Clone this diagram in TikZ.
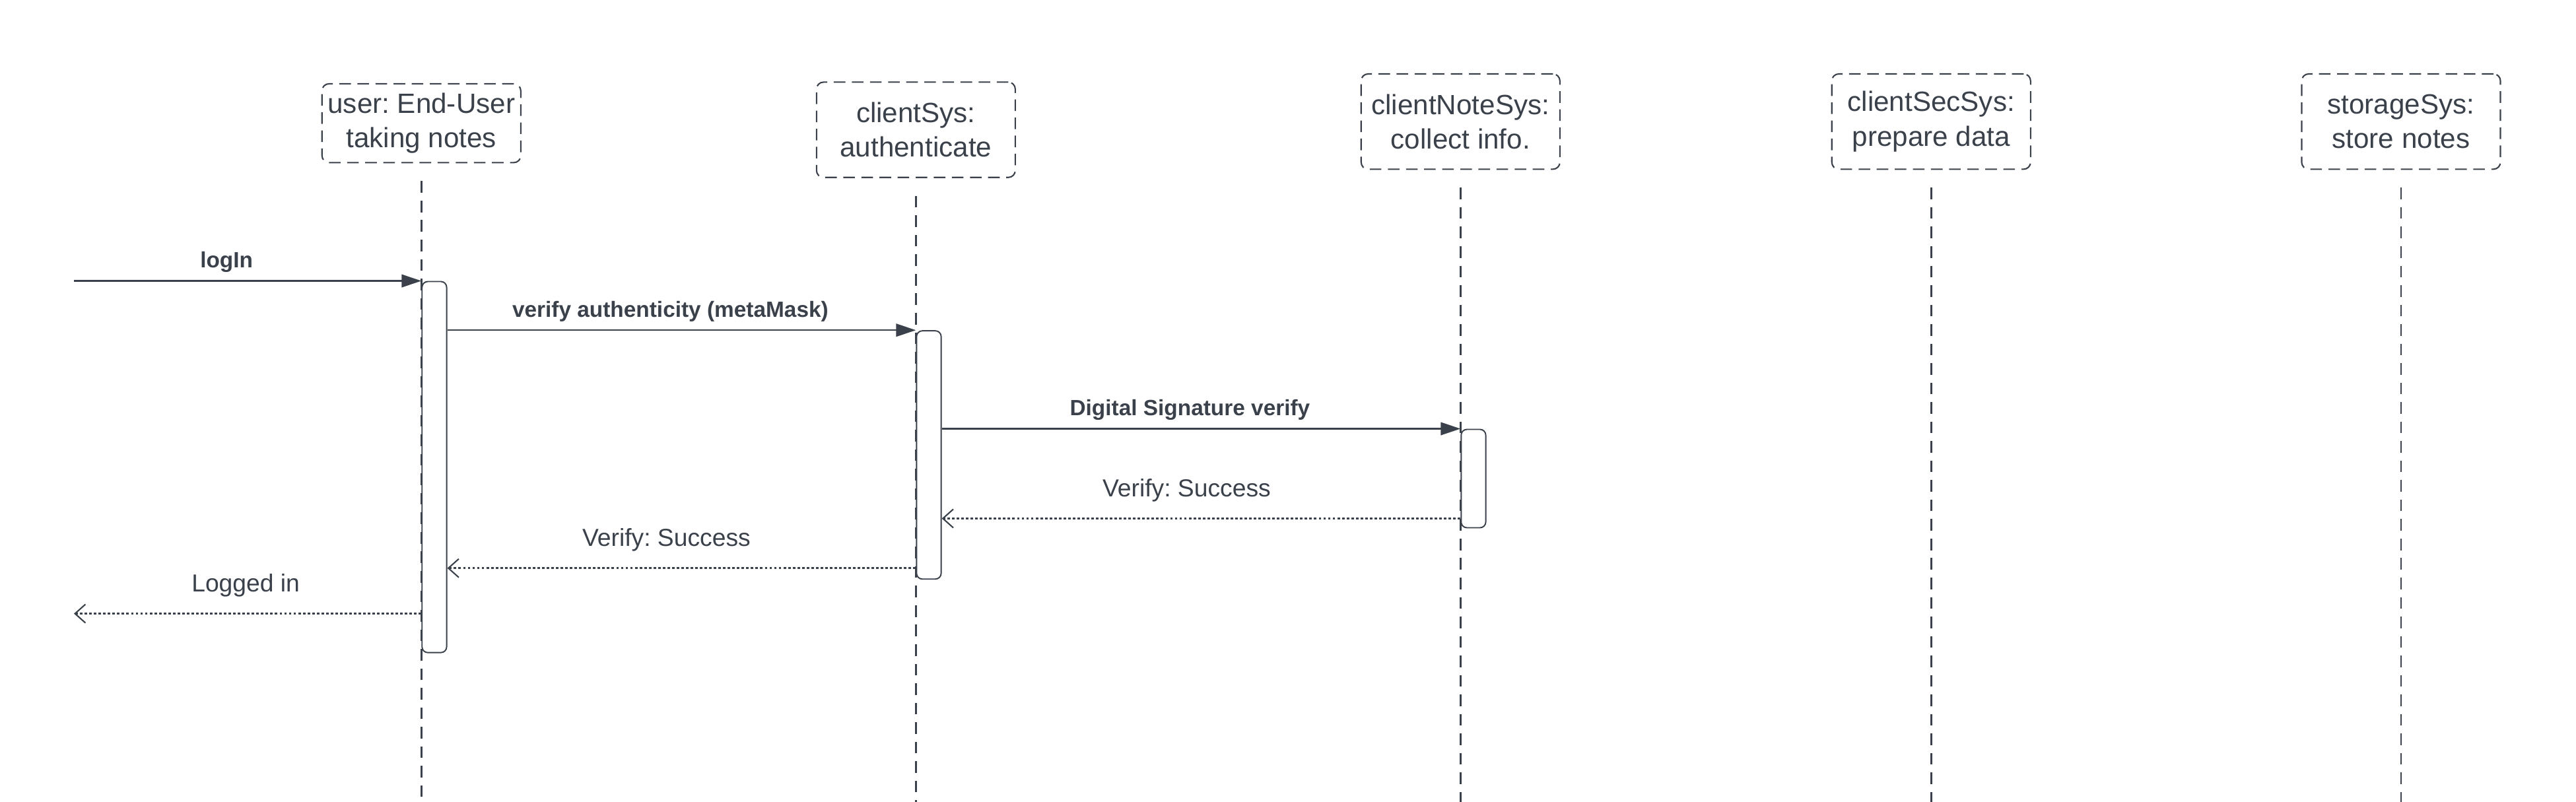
\documentclass[tikz,border=0pt]{standalone}
\usepackage{fontspec}
\setmainfont{Liberation Sans}
\usepackage{xcolor}
\usetikzlibrary{arrows.meta, calc}
\definecolor{lucidgray}{HTML}{3A414A}
\frenchspacing

\begin{document}
\begin{tikzpicture}[x=0.2488mm, y=-0.2488mm,
    lifebox/.style={rectangle, rounded corners=3pt, draw=lucidgray, line width=0.6pt, dash pattern=on 5pt off 2.8pt,
    minimum width=30.1mm, minimum height=14.43mm, align=center, inner sep=0pt, text=lucidgray, font=\fontsize{12}{14.9}\selectfont},
    lifeline/.style={draw=lucidgray, line width=0.75pt, dash pattern=on 5pt off 3.4pt},
    actbar/.style={rectangle, rounded corners=2.5pt, draw=lucidgray, line width=0.55pt, fill=white, minimum width=3.73mm, inner sep=0pt, anchor=north west},
    msg/.style={draw=lucidgray, line width=0.7pt, -{Triangle[length=8.5pt, width=5.5pt]}},
    reply/.style={draw=lucidgray, line width=1pt, dash pattern=on 1.1pt off 0.9pt, -{Straight Barb[length=4.5pt, width=8pt, line width=0.6pt]}},
    msglabel/.style={anchor=base, yshift=2mm, text=lucidgray, font=\fontsize{9.5}{11}\selectfont\bfseries},
    replylabel/.style={anchor=base, yshift=3.3mm, text=lucidgray, font=\fontsize{10.6}{12}\selectfont}]
    \useasboundingbox (0,0) rectangle (1568,488);
    \coordinate (bottom) at (0,490);

    % participants
    \node[lifebox, minimum height=11.94mm] (user) at (256.5,75) {user: End-User\\taking notes};
    \node[lifebox] (clientSys) at (557.5,79) {clientSys:\\authenticate};
    \node[lifebox] (clientNoteSys) at (889,74) {clientNoteSys:\\collect info.};
    \node[lifebox] (clientSecSys) at (1175.5,74) {clientSecSys:\\prepare data};
    \node[lifebox] (storageSys) at (1461.5,74) {storageSys:\\store notes};

    \foreach \p in {user, clientSys, clientNoteSys, clientSecSys, storageSys}
        \draw[lifeline] ([yshift=-2.7mm]\p.south) -- (\p.south |- bottom);

    % activations
    \node[actbar, minimum height=56.2mm] (userAct) at (256.5,171) {};
    \node[actbar, minimum height=37.6mm] (authAct) at (557.5,201) {};
    \node[actbar, minimum height=14.9mm] (noteAct) at (889,261) {};

    % calls
    \coordinate (entry) at (45,171);
    \draw[msg] (entry) -- node[msglabel, xshift=-3.2mm] {logIn} (userAct.north west);
    \draw[msg] (userAct.east |- authAct.north west) -- node[msglabel, xshift=-1.7mm] {verify authenticity (metaMask)} (authAct.north west);
    \draw[msg] (authAct.east |- noteAct.north west) -- node[msglabel, xshift=-1.7mm] {Digital Signature verify} (noteAct.north west);

    % replies
    \coordinate (ret1) at ([yshift=1.5mm]noteAct.south west);
    \coordinate (ret2) at ([yshift=1.75mm]authAct.south west);
    \coordinate (ret3) at ([yshift=6mm]userAct.south west);
    \draw[reply] (ret1) -- node[replylabel, xshift=-2.2mm] {Verify: Success} (authAct.east |- ret1);
    \draw[reply] (ret2) -- node[replylabel, xshift=-2.3mm] {Verify: Success} (userAct.east |- ret2);
    \draw[reply] (ret3) -- node[replylabel, xshift=-0.3mm] {Logged in} (entry |- ret3);
\end{tikzpicture}
\end{document}
